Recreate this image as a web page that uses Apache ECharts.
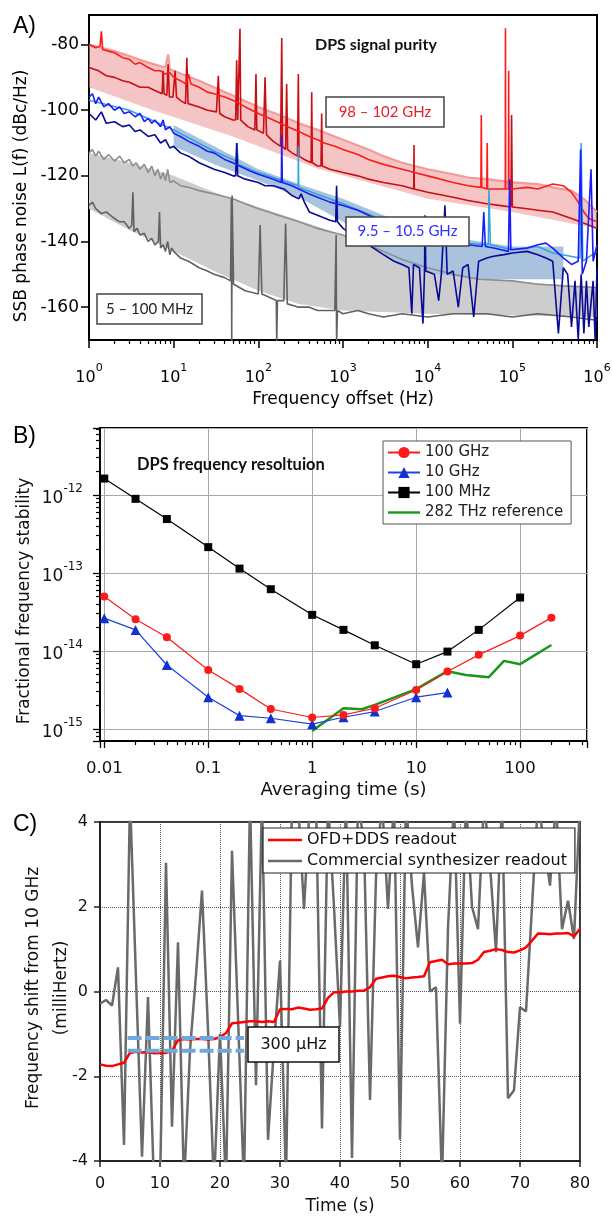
<!DOCTYPE html>
<html><head><meta charset="utf-8">
<script src="https://cdn.jsdelivr.net/npm/echarts@6/dist/echarts.min.js"></script>
<style>html,body{margin:0;padding:0;background:#fff}#c{width:612px;height:1216px}</style>
</head><body><div id="c"></div><script>
// ---------- Panel A : SSB phase noise [frequency offset Hz, dBc/Hz] ----------
const redUpper=[[1,-80],[1.2,-81],[1.35,-80.5],[1.4,-76],[1.45,-81.5],[1.7,-82],[2,-82.5],[2.5,-84],[3,-84.5],[3.5,-86],[4,-85.5],[5,-87],[6,-88],[7,-88],[8,-89],[9,-88.5],[10,-90],[12,-91],[14,-92],[15,-89],[16,-92],[20,-93],[25,-94.5],[30,-95],[40,-96],[50,-97],[60,-98],[70,-99],[100,-101],[150,-103],[200,-104.5],[300,-106.5],[400,-108],[500,-109],[600,-110],[800,-111],[1000,-112],[1500,-113.5],[2000,-115],[3000,-116.5],[5000,-118],[7000,-119],[1e4,-120],[2e4,-122],[3e4,-123],[4.25e4,-123.5],[4.3e4,-101.5],[4.35e4,-123.5],[5e4,-124],[5.05e4,-110],[5.1e4,-124],[6e4,-124],[8.25e4,-124],[8.3e4,-75],[8.35e4,-124],[9e4,-124],[9.05e4,-88],[9.1e4,-124],[1e5,-124],[1.5e5,-123.5],[2e5,-124],[3e5,-122.5],[4e5,-123],[5e5,-125],[6e5,-128],[7e5,-131],[8e5,-133],[1e6,-134]];
const redLower=[[1,-87],[1.3,-88],[1.6,-89.5],[2,-90],[2.5,-91],[3,-91.5],[4,-93],[5,-93],[6,-94],[7.3,-95],[7.5,-88],[7.7,-95],[8.3,-95.5],[8.6,-86],[8.9,-96],[9.8,-96],[10.4,-88],[10.8,-96],[12,-97],[13.8,-98],[14.3,-84],[14.8,-98],[20,-99],[25,-100],[32,-100.5],[33.7,-89.5],[35,-101],[40,-102],[50,-103],[54,-103],[55.5,-84.8],[57,-103],[59,-103],[60.7,-75.2],[62,-103],[75,-105],[91,-106],[93.8,-89],[96,-106],[115,-107],[120,-90],[125,-107.5],[150,-109.5],[183,-111],[189,-78],[193,-111],[210,-112],[216,-92],[222,-112],[250,-113],[290,-114],[297,-89],[302,-114],[350,-115],[420,-116],[427,-94.5],[434,-116],[500,-117],[550,-117],[560,-101],[570,-117],[700,-118],[1000,-119],[1500,-120],[2000,-121],[3000,-122],[5000,-123],[6850,-124],[6900,-110.6],[6950,-124],[1e4,-125],[2e4,-126.5],[3e4,-127.5],[5e4,-128.5],[7e4,-129],[9.6e4,-129.5],[9.8e4,-101.5],[1e5,-129.5],[1.5e5,-130],[2e5,-130.5],[3e5,-131],[5e5,-133],[8e5,-135],[1e6,-136]];
const redPale=[[1,-80],[2,-82],[3,-83.5],[5,-85.5],[8,-87],[8.6,-83],[9,-87.5],[10,-88],[20,-91],[30,-93],[50,-95.5],[100,-99],[200,-102],[300,-104],[500,-106],[1000,-109],[2000,-112],[3000,-114],[5000,-116],[1e4,-118],[2e4,-119.5],[3e4,-120.5],[5e4,-121],[1e5,-122],[2e5,-122.5],[3e5,-123.5],[5e5,-124.5],[7e5,-127],[1e6,-131]];
const pinkBottom=[[1,-93],[5.7,-100],[50,-108],[490,-117.7],[1e4,-127],[1e5,-131],[1e6,-136]];

const blueBright=[[1,-96],[1.1,-95],[1.2,-98],[1.3,-96],[1.5,-99],[1.7,-98],[2,-100],[2.3,-99],[2.6,-101],[3,-100.5],[3.5,-102],[4,-101],[4.5,-103.5],[5,-102.5],[5.5,-104],[6,-103],[7,-105],[7.5,-103],[8,-106],[9,-105],[10,-107],[12,-108],[15,-109.5],[20,-111],[25,-112.5],[30,-113],[40,-115],[50,-116],[60,-117],[80,-118.5],[100,-119.5],[150,-121],[187,-122],[189,-107.6],[192,-122],[250,-123],[300,-124],[400,-125.5],[500,-126.5],[700,-128],[1000,-129],[1500,-130.5],[2000,-132],[3000,-134],[5000,-136],[7000,-137],[1e4,-138],[1.5e4,-139.5],[2e4,-140],[3e4,-141],[4.4e4,-141.5],[4.6e4,-131],[4.8e4,-141.5],[6e4,-142],[9e4,-143],[9.3e4,-121],[9.6e4,-142.5],[1.5e5,-142],[2e5,-141],[2.5e5,-140.5],[3e5,-142],[4e5,-145],[5e5,-147],[6e5,-146],[6.4e5,-112],[6.7e5,-150],[7.5e5,-146],[8.5e5,-118],[9e5,-146],[1e6,-141]];
const blueDark=[[1,-101],[1.2,-103],[1.4,-100.5],[1.6,-104],[2,-103.5],[2.5,-105],[3,-104.5],[3.5,-106.5],[4,-106],[5,-108],[6,-107.5],[7,-110],[8,-109],[9,-111.5],[10,-111],[12,-113],[15,-114],[20,-116],[30,-118],[40,-119],[50,-120],[54,-120],[55.5,-110],[57,-120],[70,-121],[100,-122],[120,-123],[150,-123],[200,-124],[250,-126],[300,-127],[320,-125.5],[350,-128],[400,-131],[500,-132],[700,-133.5],[820,-134],[840,-123],[860,-134],[1000,-136],[1500,-139],[2000,-141],[3000,-144],[4000,-146],[5000,-147],[6000,-148],[6500,-162],[6800,-147],[8000,-148],[8800,-165],[9200,-148],[9300,-132],[9500,-149],[1.2e4,-150],[1.35e4,-158],[1.45e4,-150],[1.6e4,-129],[1.7e4,-150],[2e4,-149],[2.3e4,-160],[2.6e4,-148],[3e4,-147],[3.5e4,-163],[4e4,-146],[5e4,-145],[6e4,-144.5],[8e4,-144],[1e5,-143.5],[1.5e5,-143],[2e5,-144],[2.5e5,-145],[3e5,-146],[3.5e5,-168],[4e5,-148],[4.5e5,-150],[5e5,-166],[5.5e5,-152],[6e5,-170],[6.5e5,-150],[7e5,-168],[7.5e5,-152],[8e5,-166],[9e5,-152],[9.5e5,-170],[1e6,-148]];
const blueCyan=[[1,-97],[3,-100],[10,-106],[30,-112.5],[55,-115.5],[56,-110],[58,-116.5],[100,-119],[295,-123],[297,-111],[300,-123.5],[1000,-128.5],[3000,-133.5],[1e4,-137.5],[3e4,-140.5],[5.2e4,-141],[5.3e4,-124],[5.5e4,-141],[1e5,-142.5],[2e5,-141.5],[3e5,-143.5],[6.3e5,-145],[6.5e5,-110],[6.8e5,-146],[1e6,-143]];
const blueBandTop=[[10,-104.5],[30,-111],[100,-118],[300,-122.5],[1000,-127],[3000,-132],[1e4,-136.5],[3e4,-139.5],[1e5,-141.5],[4e5,-141.5]];
const blueBandBottom=[[10,-111],[30,-116.5],[100,-121.5],[300,-126.5],[1000,-134],[4400,-147],[1e4,-149.5],[4e4,-151.5],[4e5,-151.5]];

const grayLight=[[1,-113],[1.1,-112],[1.2,-114],[1.3,-112.5],[1.5,-115],[1.7,-113.5],[2,-115.5],[2.3,-114],[2.6,-116],[3,-115],[3.3,-117],[3.6,-116],[4,-118],[4.5,-116.5],[5,-119],[5.5,-117],[6,-120],[6.5,-118],[7,-121],[7.5,-119],[8,-121.5],[8.5,-118],[9,-122],[10,-121.5],[12,-123],[15,-123.5],[20,-124.5],[30,-125.5],[50,-127],[70,-128.5],[100,-130],[150,-131.5],[200,-132.5],[300,-134],[500,-136],[700,-137],[1000,-138],[2000,-141],[3000,-143],[5000,-145.5],[1e4,-148],[2e4,-150],[4e4,-151.5],[1e5,-152],[2e5,-153],[4e5,-153.5],[1e6,-154]];
const grayDark=[[1,-129],[1.1,-128],[1.2,-130],[1.4,-131.5],[1.6,-131],[2,-133],[2.3,-134],[2.6,-134],[3,-136],[3.2,-135],[3.3,-125],[3.4,-137],[3.7,-136],[4,-138],[4.5,-137.5],[5,-140],[5.5,-139],[6,-141],[6.6,-140],[6.8,-131],[7,-142],[7.5,-141],[8,-143],[8.5,-140],[9,-144],[9.5,-142],[10,-143],[12,-145],[15,-146],[20,-148],[25,-149],[30,-150],[40,-151],[47,-152],[48,-127],[48.5,-171],[49,-126],[51,-153],[70,-155],[100,-156],[105,-135],[110,-156],[150,-157.5],[163,-158],[165,-171],[168,-158],[200,-158],[210,-134.5],[220,-159],[300,-160],[400,-160],[500,-161],[600,-161],[700,-161],[800,-161],[830,-138],[840,-171],[860,-161],[1000,-162],[1500,-161],[2000,-162],[3000,-163],[5000,-162],[1e4,-163],[2e4,-162],[5e4,-162],[1e5,-163],[2e5,-162],[5e5,-163],[1e6,-164]];
const grayBandTop=[[1,-113],[3,-116],[10,-120],[30,-125],[100,-129.5],[300,-133.5],[1000,-138],[3000,-143],[1e4,-147.5],[3e4,-150.5],[1e5,-152],[3e5,-153],[1e6,-154]];
const grayBandBottom=[[1,-130],[3,-136.5],[10,-143],[30,-149],[100,-155],[300,-159],[1000,-161],[1e4,-162],[1e6,-163]];
const yTicksA=[-160,-140,-120,-100,-80];

// ---------- Panel B : Allan deviation ----------
const tau=[0.01,0.02,0.04,0.1,0.2,0.4,1,2,4,10,20,40,100,200];
const adev100GHz=[4.98e-14,2.55e-14,1.5e-14,5.7e-15,3.26e-15,1.8e-15,1.4e-15,1.51e-15,1.84e-15,3.16e-15,5.43e-15,8.9e-15,1.57e-14,2.67e-14];
const adev10GHz=[2.63e-14,1.86e-14,6.6e-15,2.55e-15,1.48e-15,1.37e-15,1.15e-15,1.41e-15,1.67e-15,2.55e-15,2.92e-15];
const adev100MHz=[1.62e-12,8.9e-13,4.9e-13,2.14e-13,1.135e-13,6.18e-14,2.9e-14,1.86e-14,1.18e-14,6.75e-15,9.8e-15,1.86e-14,4.83e-14];
const tauRef=[1,2,3,4,10,20,30,50,70,100,200];
const adevRef=[0.94e-15,1.84e-15,1.79e-15,2.03e-15,3.23e-15,5.5e-15,4.9e-15,4.6e-15,7.45e-15,6.76e-15,1.19e-14];

// ---------- Panel C : frequency readout ----------
const timeC=[0,1,2,3,4,5,6,7,8,9,10,11,12,13,14,15,16,17,18,19,20,21,22,23,24,25,26,27,28,29,30,31,32,33,34,35,36,37,38,39,40,41,42,43,44,45,46,47,48,49,50,51,52,53,54,55,56,57,58,59,60,61,62,63,64,65,66,67,68,69,70,71,72,73,74,75,76,77,78,79,80];
const ofdDds=[-1.72,-1.75,-1.76,-1.72,-1.68,-1.45,-1.42,-1.44,-1.43,-1.46,-1.45,-1.45,-1.40,-1.15,-1.12,-1.13,-1.12,-1.12,-1.13,-1.12,-1.08,-0.98,-0.75,-0.74,-0.72,-0.70,-0.70,-0.72,-0.70,-0.72,-0.42,-0.41,-0.42,-0.38,-0.40,-0.43,-0.42,-0.40,-0.15,-0.02,-0.02,0.0,0.0,0.02,0.02,0.1,0.3,0.33,0.36,0.37,0.34,0.31,0.33,0.34,0.36,0.69,0.72,0.75,0.64,0.66,0.66,0.66,0.67,0.75,0.93,0.96,1.0,0.98,0.93,0.92,0.97,1.04,1.2,1.37,1.36,1.35,1.37,1.37,1.38,1.3,1.48];
const commercial=[-0.29,-0.2,-0.33,0.57,-3.62,4.6,0.3,-3.9,-0.13,-4.6,-4.6,3.04,-3.19,1.16,-4.6,-1.39,0.4,2.38,-0.9,-4.6,-1.0,-4.6,3.32,-0.6,-4.6,4.6,-2.21,4.6,-3.5,-1.3,0.73,-4.5,4.5,4.5,1.95,4.5,4.5,-3.23,4.5,2.0,-0.84,4.5,-3.93,4.5,3.5,-2.56,2.7,4.5,1.95,4.5,-3.5,4.5,2.5,1.04,2.8,0.0,0.1,-4.5,1.5,4.5,-0.76,4.5,2.0,1.47,4.5,3.0,0.93,4.5,-2.52,-2.33,-0.37,-0.47,2.0,4.5,3.5,2.5,4.5,1.47,2.14,1.24,4.5];
const markerTime=[4.6,24];
const markerLevels=[-1.1,-1.4];

// ---------- helpers ----------
const FONT='DejaVu Sans';
const zip=(a,b)=>a.map((v,i)=>[v,b[i]]).filter(p=>p[1]!==undefined);
const minorA=[];for(let k=0;k<6;k++)for(let m=2;m<10;m++)minorA.push(m*Math.pow(10,k));
const minorBx=[];for(let k=-2;k<3;k++)for(let m=2;m<10;m++){const v=m*Math.pow(10,k);if(v<=440)minorBx.push(v);}
const minorBy=[];for(let k=-16;k<-11;k++)for(let m=2;m<10;m++){const v=m*Math.pow(10,k);if(v>=7e-16&&v<=7.2e-12)minorBy.push(v);}
function expOf(v){const e=Math.log10(v);const r=Math.round(e);return Math.abs(e-r)<1e-6?r:null;}
function powLabel(v){const r=expOf(v);return r===null?'':'{b|10}{s|'+r+'}';}
function decLabel(v){const r=expOf(v);if(r===null)return '';return r<0?v.toFixed(-r):String(Math.round(v));}
function band(top,bot,color,xi,yi){
  return {type:'custom',xAxisIndex:xi,yAxisIndex:yi,silent:true,z:1,data:[[top[0][0],top[0][1]]],
    renderItem:function(params,api){
      const pts=top.map(p=>api.coord(p)).concat(bot.slice().reverse().map(p=>api.coord(p)));
      return {type:'polygon',shape:{points:pts},style:{fill:color}};
    }};
}
function lineA(data,color,w,z){return {type:'line',xAxisIndex:0,yAxisIndex:0,data:data,symbol:'none',z:z,lineStyle:{color:color,width:w},silent:true};}
const barIcon='path://M0,0H34V2.6H0Z';

const chart=echarts.init(document.getElementById('c'),null,{width:612,height:1216});
const black={color:'#000',width:2};
chart.setOption({
  animation:false,
  textStyle:{fontFamily:FONT},
  grid:[
    {left:89,top:15,width:508,height:325,show:true,borderColor:'#000',borderWidth:2,outerBoundsMode:'none',containLabel:false},
    {left:100,top:428,width:487,height:313,show:true,borderColor:'#000',borderWidth:2,outerBoundsMode:'none',containLabel:false},
    {left:100,top:822,width:480,height:339,show:true,borderColor:'#333',borderWidth:2,outerBoundsMode:'none',containLabel:false}
  ],
  xAxis:[
    {type:'log',gridIndex:0,min:1,max:1e6,axisLine:{onZero:false,lineStyle:black},axisTick:{length:8,lineStyle:{color:'#000',width:1.5}},
     splitLine:{show:false},axisLabel:{formatter:powLabel,interval:0,margin:23,hideOverlap:false,rich:{b:{fontSize:16,fontFamily:FONT,color:'#000',padding:[7,0,0,0]},s:{fontSize:11,fontFamily:FONT,color:'#000',verticalAlign:'top'}}},
     name:'Frequency offset (Hz)',nameLocation:'middle',nameGap:51,nameTextStyle:{fontSize:17,color:'#000',fontFamily:FONT}},
    {type:'log',gridIndex:0,min:1,max:1e6,position:'bottom',axisLine:{show:false},axisLabel:{show:false},splitLine:{show:false},axisTick:{customValues:minorA,length:4,lineStyle:{color:'#000',width:1.2}}},
    {type:'log',gridIndex:1,min:0.0091,max:440,axisLine:{onZero:false,lineStyle:black},axisTick:{length:7,lineStyle:{color:'#000',width:1.3}},
     splitLine:{show:true,lineStyle:{color:'#a8a8a8',width:1}},axisLabel:{formatter:decLabel,interval:0,margin:19,fontSize:16.5,color:'#111',hideOverlap:false},
     name:'Averaging time (s)',nameLocation:'middle',nameGap:40,nameTextStyle:{fontSize:18,color:'#111',fontFamily:FONT}},
    {type:'log',gridIndex:1,min:0.0091,max:440,position:'bottom',axisLine:{show:false},axisLabel:{show:false},splitLine:{show:false},axisTick:{customValues:minorBx,length:4,lineStyle:{color:'#000',width:1.2}}},
    {type:'value',gridIndex:2,min:0,max:80,interval:10,axisLine:{onZero:false,lineStyle:{color:'#222',width:2}},axisTick:{length:6,lineStyle:{color:'#222',width:1.5}},
     splitLine:{show:true,lineStyle:{color:'#555',width:1,type:'dotted'}},axisLabel:{fontSize:16,color:'#111',margin:15},
     name:'Time (s)',nameLocation:'middle',nameGap:37,nameTextStyle:{fontSize:17,color:'#111',fontFamily:FONT}}
  ],
  yAxis:[
    {type:'value',gridIndex:0,min:-170,max:-71,axisLine:{onZero:false,lineStyle:black},splitLine:{show:false},
     axisTick:{customValues:yTicksA,length:8,lineStyle:{color:'#000',width:1.5}},axisLabel:{customValues:yTicksA,fontSize:17,color:'#000',margin:10}},
    {type:'log',gridIndex:1,min:7e-16,max:7.2e-12,axisLine:{onZero:false,lineStyle:black},axisTick:{length:7,lineStyle:{color:'#000',width:1.3}},
     splitLine:{show:true,lineStyle:{color:'#a8a8a8',width:1}},axisLabel:{formatter:powLabel,interval:0,margin:17,hideOverlap:false,rich:{b:{fontSize:17,fontFamily:FONT,color:'#111',padding:[8,0,0,0]},s:{fontSize:12,fontFamily:FONT,color:'#111',verticalAlign:'top'}}}},
    {type:'log',gridIndex:1,min:7e-16,max:7.2e-12,position:'left',axisLine:{show:false},axisLabel:{show:false},splitLine:{show:false},axisTick:{customValues:minorBy,length:4,lineStyle:{color:'#000',width:1.2}}},
    {type:'value',gridIndex:2,min:-4,max:4,interval:2,axisLine:{onZero:false,lineStyle:{color:'#222',width:2}},axisTick:{length:6,lineStyle:{color:'#222',width:1.5}},
     splitLine:{show:true,lineStyle:{color:'#555',width:1,type:'dotted'}},axisLabel:{fontSize:16,color:'#111',margin:12}}
  ],
  legend:[
    {selectedMode:false,orient:'vertical',left:383,top:441,itemWidth:32,itemHeight:14,itemGap:5,padding:[4,8,4,4],borderColor:'#555',borderWidth:1,backgroundColor:'#fff',
     textStyle:{fontSize:15,color:'#222',fontFamily:FONT},data:['100 GHz','10 GHz','100 MHz',{name:'282 THz reference',icon:'path://M0,0H32V2.4H0Z'}]},
    {selectedMode:false,orient:'vertical',left:263,top:828,itemWidth:34,itemHeight:14,itemGap:5,padding:[4,8,4,5],borderColor:'#222',borderWidth:1.2,backgroundColor:'#fff',
     icon:barIcon,textStyle:{fontSize:16,color:'#111',fontFamily:FONT},data:['OFD+DDS readout','Commercial synthesizer readout']}
  ],
  series:[
    band(grayBandTop,grayBandBottom,'#cdcdcd',0,0),
    band(blueBandTop,blueBandBottom,'#a9c2de',0,0),
    band(redPale,pinkBottom,'rgba(236,150,150,0.55)',0,0),
    lineA(grayLight,'#8e8e8e',1.6,3),
    lineA(grayDark,'#626262',1.6,3),
    lineA(redPale,'#f39a9a',2.2,4),
    lineA(redLower,'#c80f14',1.6,5),
    lineA(redUpper,'#ff1a1a',1.6,5),
    lineA(blueCyan,'#2ea3dc',1.5,6),
    lineA(blueDark,'#0a0a96',1.6,6),
    lineA(blueBright,'#1c1cff',1.6,7),
    {name:'100 GHz',type:'line',xAxisIndex:2,yAxisIndex:1,data:zip(tau,adev100GHz),symbol:'circle',symbolSize:8,lineStyle:{color:'#ff1a1a',width:1.2},itemStyle:{color:'#ff1a1a'},z:5},
    {name:'10 GHz',type:'line',xAxisIndex:2,yAxisIndex:1,data:zip(tau,adev10GHz),symbol:'triangle',symbolSize:10,lineStyle:{color:'#2040e0',width:1.2},itemStyle:{color:'#1430d0'},z:4},
    {name:'100 MHz',type:'line',xAxisIndex:2,yAxisIndex:1,data:zip(tau,adev100MHz),symbol:'rect',symbolSize:8,lineStyle:{color:'#000',width:1.2},itemStyle:{color:'#000'},z:4},
    {name:'282 THz reference',type:'line',xAxisIndex:2,yAxisIndex:1,data:zip(tauRef,adevRef),symbol:'none',lineStyle:{color:'#1a961a',width:2.5},itemStyle:{color:'#1a961a'},z:3},
    {name:'Commercial synthesizer readout',type:'line',xAxisIndex:4,yAxisIndex:3,data:zip(timeC,commercial),symbol:'none',lineStyle:{color:'#6a6a6a',width:2.5},itemStyle:{color:'#6a6a6a'},z:3},
    {name:'OFD+DDS readout',type:'line',xAxisIndex:4,yAxisIndex:3,data:zip(timeC,ofdDds),symbol:'none',lineStyle:{color:'#ff0000',width:2.5},itemStyle:{color:'#ff0000'},z:4},
    {type:'line',xAxisIndex:4,yAxisIndex:3,data:markerTime.map(t=>[t,markerLevels[0]]),symbol:'none',lineStyle:{color:'#6fa8dc',width:4,type:[14,4]},z:6,silent:true},
    {type:'line',xAxisIndex:4,yAxisIndex:3,data:markerTime.map(t=>[t,markerLevels[1]]),symbol:'none',lineStyle:{color:'#6fa8dc',width:4,type:[14,4]},z:6,silent:true}
  ],
  graphic:[
    {type:'text',x:13,y:27,z:100,style:{text:'A)',fontSize:23,fontFamily:'Liberation Sans',fill:'#000',align:'left',verticalAlign:'middle'}},
    {type:'text',x:13,y:437,z:100,style:{text:'B)',fontSize:23,fontFamily:'Liberation Sans',fill:'#000',align:'left',verticalAlign:'middle'}},
    {type:'text',x:13,y:825,z:100,style:{text:'C)',fontSize:23,fontFamily:'Liberation Sans',fill:'#000',align:'left',verticalAlign:'middle'}},
    {type:'text',x:22,y:196,rotation:Math.PI/2,z:100,style:{text:'SSB phase noise L(f) (dBc/Hz)',fontSize:17,fontFamily:FONT,fill:'#000',align:'center',verticalAlign:'middle'}},
    {type:'text',x:25,y:601,rotation:Math.PI/2,z:100,style:{text:'Fractional frequency stability',fontSize:17,fontFamily:FONT,fill:'#111',align:'center',verticalAlign:'middle'}},
    {type:'text',x:34,y:988,rotation:Math.PI/2,z:100,style:{text:'Frequency shift from 10 GHz',fontSize:17,fontFamily:FONT,fill:'#111',align:'center',verticalAlign:'middle'}},
    {type:'text',x:62,y:988,rotation:Math.PI/2,z:100,style:{text:'(milliHertz)',fontSize:17,fontFamily:FONT,fill:'#111',align:'center',verticalAlign:'middle'}},
    {type:'text',x:315,y:45,z:100,style:{text:'DPS signal purity',fontSize:16,fontWeight:'bold',fontFamily:'Lato',fill:'#111',align:'left',verticalAlign:'middle'}},
    {type:'text',x:137,y:465,z:100,style:{text:'DPS frequency resoltuion',fontSize:16.5,fontWeight:'bold',fontFamily:'Lato',fill:'#111',align:'left',verticalAlign:'middle'}},
    {type:'rect',z:100,shape:{x:326,y:97,width:118,height:30},style:{fill:'#fff',stroke:'#444',lineWidth:1.5}},
    {type:'text',x:385,y:112,z:101,style:{text:'98 – 102 GHz',fontSize:15,fontFamily:'Lato',fill:'#e8202a',align:'center',verticalAlign:'middle'}},
    {type:'rect',z:100,shape:{x:346,y:217,width:123,height:29},style:{fill:'#fff',stroke:'#444',lineWidth:1.5}},
    {type:'text',x:407.5,y:231.5,z:101,style:{text:'9.5 – 10.5 GHz',fontSize:15,fontFamily:'Lato',fill:'#3030ff',align:'center',verticalAlign:'middle'}},
    {type:'rect',z:100,shape:{x:97,y:294,width:105,height:30},style:{fill:'#fff',stroke:'#444',lineWidth:1.5}},
    {type:'text',x:149.5,y:309,z:101,style:{text:'5 – 100 MHz',fontSize:15,fontFamily:'Lato',fill:'#222',align:'center',verticalAlign:'middle'}},
    {type:'rect',z:100,shape:{x:248,y:1027,width:91,height:35},style:{fill:'#fff',stroke:'#111',lineWidth:1.5}},
    {type:'text',x:293.5,y:1045,z:101,style:{text:'300 μHz',fontSize:16,fontFamily:FONT,fill:'#111',align:'center',verticalAlign:'middle'}}
  ]
});
</script></body></html>
